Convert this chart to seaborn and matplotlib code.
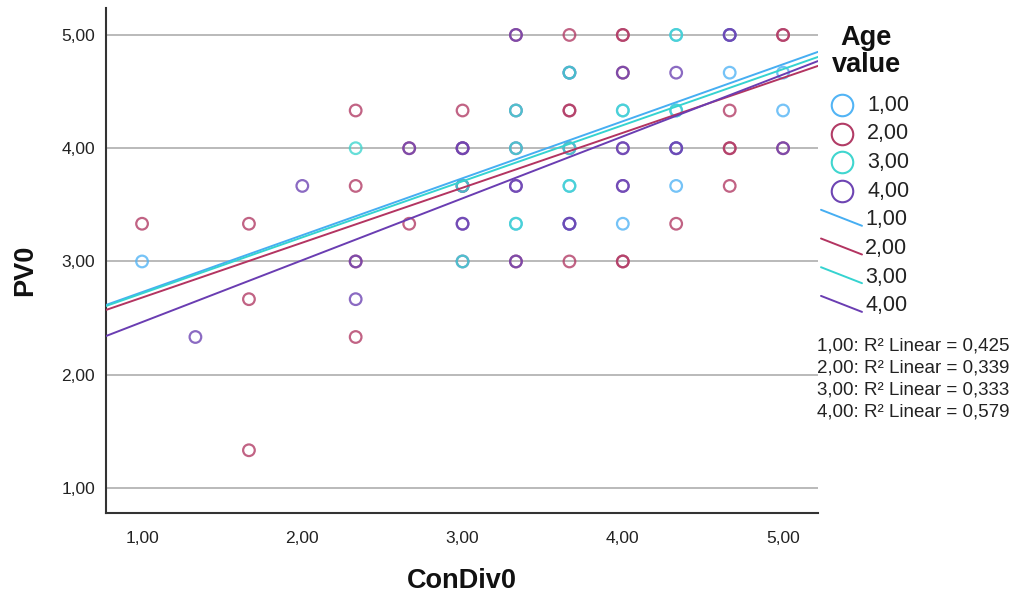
import numpy as np
import pandas as pd
import matplotlib
matplotlib.use("Agg")
import matplotlib.pyplot as plt
import seaborn as sns
from matplotlib.lines import Line2D

# ---------------- data ----------------
groups = ["1,00", "2,00", "3,00", "4,00"]
marker_colors = ["#52b4f5", "#b23c66", "#40d6cf", "#6e45b3"]
line_colors = ["#46aef2", "#b33461", "#35d3d0", "#6a3db2"]

g1_x = [4.333, 4.667, 3.667, 4.667, 5.0, 4.0, 4.333, 5.0, 4.333, 3.667, 4.333, 3.333, 3.667, 4.0, 1.0]
g1_y = [5.0, 5.0, 4.667, 4.667, 4.667, 4.333, 4.333, 4.333, 4.0, 3.667, 3.667, 3.333, 3.333, 3.333, 3.0]

g2_x = [3.333, 3.667, 4.0, 4.0, 5.0, 5.0, 4.0, 2.333, 3.0, 3.667, 3.667, 4.667,
        2.667, 3.0, 4.667, 4.667, 5.0, 2.333, 3.0, 4.667,
        1.0, 1.667, 2.667, 4.333, 2.333, 3.333, 3.667, 4.0, 4.0, 1.667, 2.333, 1.667]
g2_y = [5.0, 5.0, 5.0, 5.0, 5.0, 5.0, 4.667, 4.333, 4.333, 4.333, 4.333, 4.333,
        4.0, 4.0, 4.0, 4.0, 4.0, 3.667, 3.667, 3.667,
        3.333, 3.333, 3.333, 3.333, 3.0, 3.0, 3.0, 3.0, 3.0, 2.667, 2.333, 1.333]

g3_x = [4.333, 3.667, 3.333, 4.0, 4.333, 2.333, 3.333, 3.667, 3.0, 3.667, 3.333, 3.0]
g3_y = [5.0, 4.667, 4.333, 4.333, 4.333, 4.0, 4.0, 4.0, 3.667, 3.667, 3.333, 3.0]

g4_x = [3.333, 4.667, 4.667, 3.667, 4.0, 4.333, 3.333,
        2.667, 3.0, 3.0, 3.333, 3.667, 4.0, 4.0, 4.333, 4.333, 5.0,
        2.0, 3.0, 3.333, 3.333, 4.0, 4.0, 3.0, 3.0, 3.667, 3.667,
        2.333, 3.0, 3.333, 2.333, 1.333]
g4_y = [5.0, 5.0, 5.0, 4.667, 4.667, 4.667, 4.333,
        4.0, 4.0, 4.0, 4.0, 4.0, 4.0, 4.0, 4.0, 4.0, 4.0,
        3.667, 3.667, 3.667, 3.667, 3.667, 3.667, 3.333, 3.333, 3.333, 3.333,
        3.0, 3.0, 3.0, 2.667, 2.333]

# fit lines (intercept, slope) and R² labels
intercepts = [2.226, 2.196, 2.223, 1.918]
slopes = [0.503, 0.485, 0.495, 0.5465]
r2_labels = ["0,425", "0,339", "0,333", "0,579"]

x_ticks = [1, 2, 3, 4, 5]
y_ticks = [1, 2, 3, 4, 5]
x_label = "ConDiv0"
y_label = "PV0"

xs_all = [g1_x, g2_x, g3_x, g4_x]
ys_all = [g1_y, g2_y, g3_y, g4_y]

# ---------------- figure ----------------
sns.set_theme(style="white")
plt.rcParams["font.family"] = ["Liberation Sans", "DejaVu Sans"]

W, H = 1015, 597
fig = plt.figure(figsize=(W / 100, H / 100), dpi=100)
ax = fig.add_axes([106 / W, 1 - 513 / H, (818 - 106) / W, (513 - 8) / H])

xmin, xmax = 0.775, 5.218
ymin, ymax = 0.779, 5.238
ax.set_xlim(xmin, xmax)
ax.set_ylim(ymin, ymax)

for yv in y_ticks:
    ax.axhline(yv, color="#b4b4b4", lw=1.3, zorder=0)

draw_order = [0, 1, 3, 2]
for i in draw_order:
    df = pd.DataFrame({"x": xs_all[i], "y": ys_all[i]})
    sns.scatterplot(data=df, x="x", y="y", ax=ax, s=70, marker="o",
                    color=marker_colors[i], linewidth=1.6, legend=False, zorder=3)
    coll = ax.collections[-1]
    coll.set_facecolor("none")
    coll.set_edgecolor(marker_colors[i])
    coll.set_alpha(0.8)

for i, g in enumerate(groups):
    lx = np.array([xmin, xmax])
    ly = intercepts[i] + slopes[i] * lx
    sns.lineplot(x=lx, y=ly, ax=ax, color=line_colors[i], lw=1.4, zorder=4)

ax.set_xticks(x_ticks)
ax.set_xticklabels([f"{v:.2f}".replace(".", ",") for v in x_ticks])
ax.set_yticks(y_ticks)
ax.set_yticklabels([f"{v:.2f}".replace(".", ",") for v in y_ticks])
ax.tick_params(axis="x", length=0, pad=13, labelsize=12.5, colors="#222222")
ax.tick_params(axis="y", length=0, pad=8, labelsize=12.5, colors="#222222")

for s in ["top", "right"]:
    ax.spines[s].set_visible(False)
for s in ["left", "bottom"]:
    ax.spines[s].set_color("#333333")
    ax.spines[s].set_linewidth(1.5)

ax.set_xlabel(x_label, fontsize=19.5, fontweight="bold", color="#111111")
ax.xaxis.set_label_coords(0.5, -(568 - 513) / 505)
ax.xaxis.label.set_va("top")
ax.set_ylabel(y_label, fontsize=19.5, fontweight="bold", color="#111111")
ax.yaxis.set_label_coords(-(106 - 38) / 712, (513 - 270) / 505)

# ---------------- legend (manual, figure pixels) ----------------
def fx(px):
    return px / W

def fy(py):
    return 1 - py / H

fig.text(fx(866), fy(38), "Age", ha="center", va="center", fontsize=19.5,
         fontweight="bold", color="#111111")
fig.text(fx(866), fy(65), "value", ha="center", va="center", fontsize=19.5,
         fontweight="bold", color="#111111")

row0, step = 105, 28.7
for i, g in enumerate(groups):
    yy = row0 + step * i
    fig.add_artist(Line2D([fx(842)], [fy(yy)], marker="o", markersize=15.5,
                          markerfacecolor="none", markeredgecolor=marker_colors[i],
                          markeredgewidth=1.5, linestyle="none"))
    fig.text(fx(867), fy(yy), g, ha="left", va="center", fontsize=15.5, color="#222222")
for i, g in enumerate(groups):
    yy = row0 + step * (i + 4)
    fig.add_artist(Line2D([fx(821), fx(862)], [fy(yy - 10), fy(yy + 6)],
                          color=line_colors[i], lw=1.4))
    fig.text(fx(865), fy(yy), g, ha="left", va="center", fontsize=15.5, color="#222222")

for i, g in enumerate(groups):
    yy = 346 + 22 * i
    fig.text(fx(817), fy(yy), f"{g}: R² Linear = {r2_labels[i]}", ha="left",
             va="center", fontsize=13.5, color="#222222")

fig.savefig("out.png", dpi=100)
